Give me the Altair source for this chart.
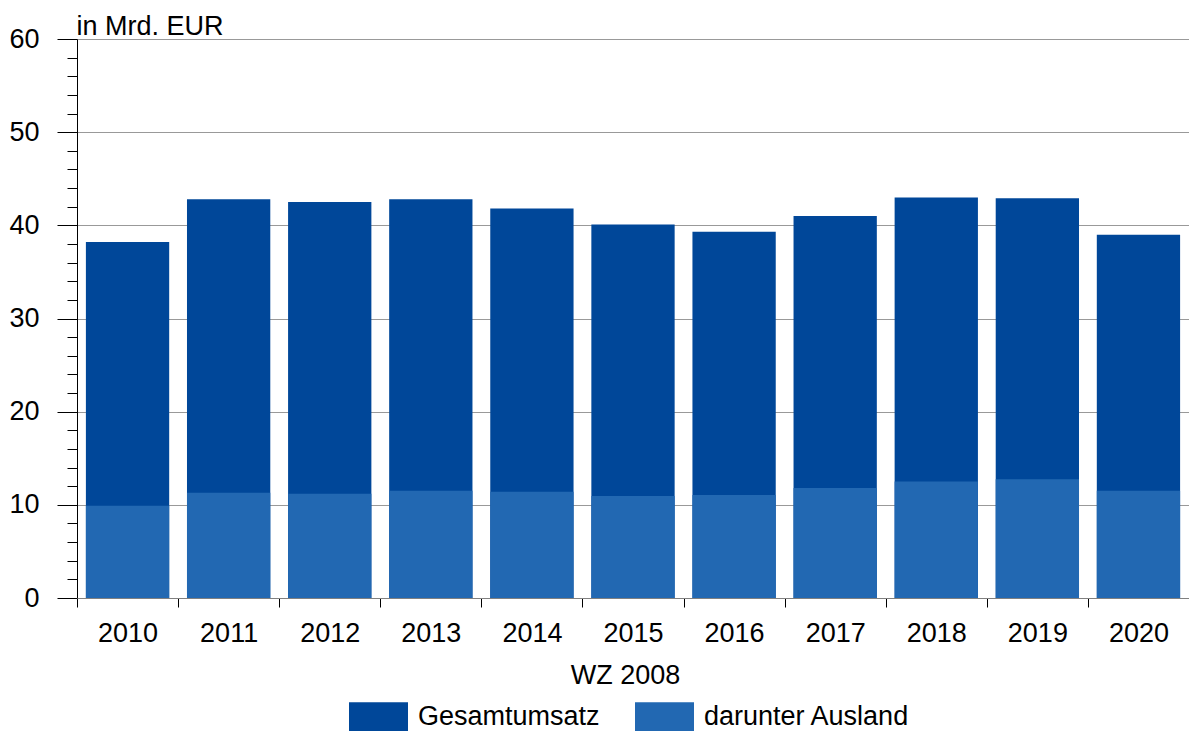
import altair as alt
import pandas as pd

years = [str(y) for y in range(2010, 2021)]
gesamt = [38.2, 42.8, 42.5, 42.8, 41.8, 40.1, 39.3, 41.0, 43.0, 42.9, 39.0]
ausland = [9.9, 11.3, 11.2, 11.5, 11.4, 10.95, 11.05, 11.8, 12.5, 12.75, 11.5]
series = ["Gesamtumsatz", "darunter Ausland"]
colors = ["#004799", "#2268B2"]

rows = []
for s, vals in zip(series, [gesamt, ausland]):
    for y, v in zip(years, vals):
        rows.append({"Jahr": y, "Reihe": s, "Wert": v})
df = pd.DataFrame(rows)

FONT = "Liberation Sans"

chart = alt.Chart(df).mark_bar(width=alt.RelativeBandSize(0.824)).encode(
    x=alt.X(
        "Jahr:N", sort=years, title="WZ 2008",
        scale=alt.Scale(paddingInner=0, paddingOuter=0),
        axis=alt.Axis(
            labelAngle=0, tickBand="extent", tickSize=9, labelPadding=13,
            domainColor="#808080", tickColor="#000000", labelFontSize=27,
            labelColor="#000000", titleColor="#000000",
            titleFontSize=27, titleFontWeight="normal", titleBaseline="alphabetic",
            titleY=85, titleX=548, titleAlign="center", grid=False, zindex=1,
        ),
    ),
    y=alt.Y(
        "Wert:Q", stack=None, title="in Mrd. EUR",
        scale=alt.Scale(domain=[0, 60], nice=False),
        axis=alt.Axis(
            values=list(range(0, 61, 2)),
            labelExpr="datum.value % 10 === 0 ? datum.label : ''",
            tickSize={"condition": {"test": "datum.value % 10 === 0", "value": 20}, "value": 10},
            gridOpacity={"condition": {"test": "datum.value % 10 === 0", "value": 1}, "value": 0},
            gridColor="#999999", gridWidth=1,
            domainColor="#000000", tickColor="#000000",
            labelFontSize=27, labelColor="#000000", labelPadding=18,
            titleAngle=0, titleAlign="left", titleBaseline="alphabetic",
            titleX=-1, titleY=-5, titleFontSize=27, titleFontWeight="normal",
            titleColor="#000000",
        ),
    ),
    color=alt.Color(
        "Reihe:N", sort=series,
        scale=alt.Scale(domain=series, range=colors),
        legend=alt.Legend(
            orient="none", legendX=272, legendY=648, direction="horizontal",
            title=None, symbolType="M-1,-0.5L1,-0.5L1,0.5L-1,0.5Z",
            symbolSize=3481, symbolStrokeWidth=0, symbolOpacity=1,
            labelFontSize=27, labelColor="#000000", labelOffset=10,
            columnPadding=35, labelLimit=400,
        ),
    ),
).properties(
    width=1112, height=559,
    autosize=alt.AutoSizeParams(type="none"),
    padding={"left": 69, "top": 31, "right": 0, "bottom": 133},
).configure(font=FONT).configure_view(stroke=None)

chart.save("out.html", embed_options={"renderer": "svg", "actions": False})
